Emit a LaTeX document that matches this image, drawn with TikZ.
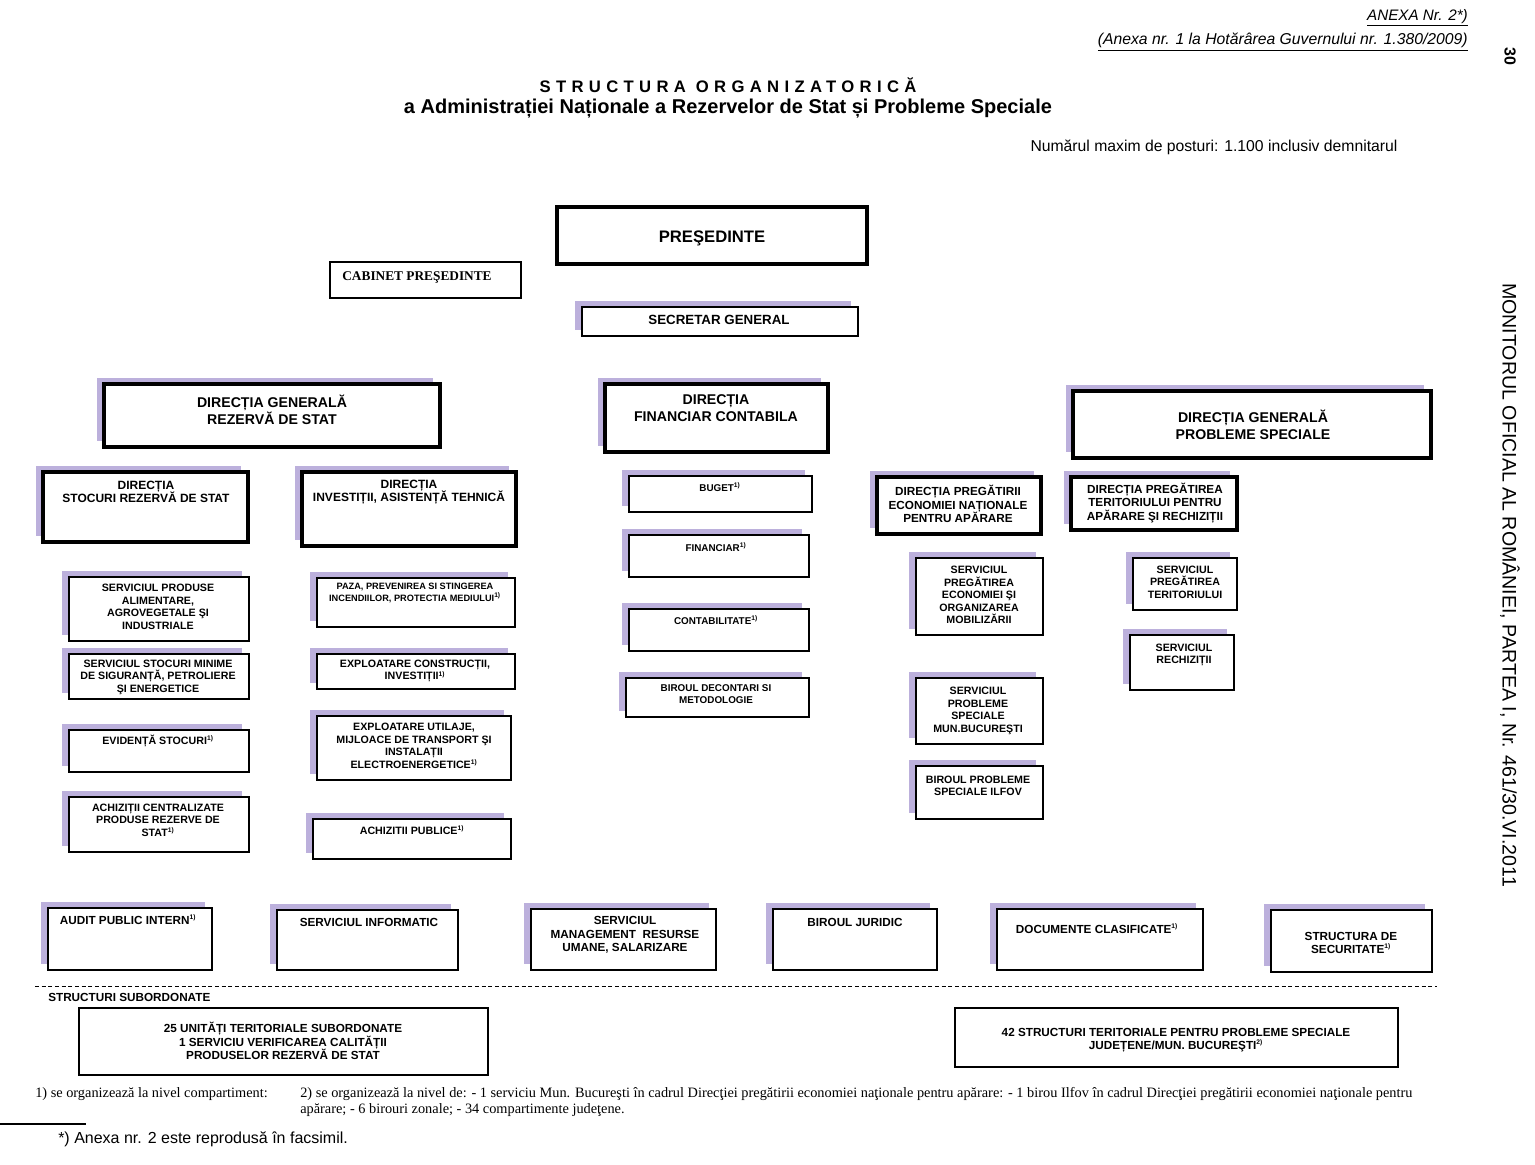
\documentclass[tikz,border=0pt]{standalone}
\usepackage{fontspec}
\setmainfont{Liberation Sans}
\newfontfamily\tms{Liberation Serif}
\definecolor{shd}{RGB}{188,176,220}
\newcommand\shbox[5]{\fill[shd] (#2-7,#3-6) rectangle (#4-7,#5-6); \draw[#1] (#2,#3) rectangle (#4,#5);}
\newcommand\plbox[5]{\draw[#1] (#2,#3) rectangle (#4,#5);}
\newcommand\fn{\textsuperscript{\tiny 1)}}
\begin{document}
\begin{tikzpicture}[x=0.75pt,y=-0.75pt,line join=miter,
  bx/.style={draw=black,line width=1.1pt,fill=white},
  tbx/.style={draw=black,line width=2.3pt,fill=white},
  thin/.style={draw=black,line width=0.8pt,fill=white},
  t/.style={align=center,inner sep=0pt,font=\fontsize{8}{9.4}\selectfont\bfseries},
  ts/.style={align=center,inner sep=0pt,font=\fontsize{7.4}{9}\selectfont\bfseries},
  tm/.style={align=center,inner sep=0pt,font=\fontsize{9}{10.2}\selectfont\bfseries},
  tb/.style={align=center,inner sep=0pt,font=\fontsize{10.6}{12.8}\selectfont\bfseries},
  tp/.style={align=center,inner sep=0pt,font=\fontsize{12.5}{14}\selectfont\bfseries},
  tt/.style={align=center,inner sep=0pt,font=\fontsize{8.8}{10.2}\selectfont\bfseries},
  note/.style={inner sep=0pt,font=\tms\fontsize{10.75}{12}\selectfont,align=left},
]
\useasboundingbox (0,0) rectangle (1535,1164);
\fill[white] (0,0) rectangle (1535,1164);

% header
\node[inner sep=0pt,anchor=east,font=\fontsize{11.4}{13}\selectfont\itshape] (anx) at (1468,18) {\underline{ANEXA Nr. 2*)}};
\node[inner sep=0pt,anchor=east,font=\fontsize{11.8}{13}\selectfont\itshape] (anx2) at (1468,42) {\underline{(Anexa nr. 1 la Hotărârea Guvernului nr. 1.380/2009)}};
\node[inner sep=0pt,rotate=-90,font=\fontsize{12}{14}\selectfont\bfseries] (pg) at (1510,56) {30};
\node[inner sep=0pt,font=\fontsize{12.5}{14}\selectfont\bfseries\addfontfeature{LetterSpace=32}] (tit1) at (728,85) {STRUCTURA ORGANIZATORICĂ};
\node[inner sep=0pt,font=\fontsize{15}{17}\selectfont\bfseries] (tit2) at (728,109) {a Administrației Naționale a Rezervelor de Stat și Probleme Speciale};
\node[inner sep=0pt,font=\fontsize{11.8}{13}\selectfont] (nr) at (1214,147) {Numărul maxim de posturi: 1.100 inclusiv demnitarul};
\node[inner sep=0pt,rotate=-90,font=\fontsize{14.7}{16}\selectfont] (mo) at (1510,585) {MONITORUL OFICIAL AL ROMÂNIEI, PARTEA I, Nr. 461/30.VI.2011};

% top level
\plbox{tbx}{557}{207}{867}{264}
\node[tp] (pres) at (712,238) {PREŞEDINTE};
\plbox{thin}{330}{262}{521}{298}
\node[inner sep=0pt,font=\tms\fontsize{10}{12}\selectfont\bfseries] (cab) at (417,277) {CABINET PREŞEDINTE};
\shbox{bx}{582}{307}{858}{336}
\node[tm,font=\fontsize{10}{12}\selectfont\bfseries] (sec) at (719,320) {SECRETAR GENERAL};

% general directorates
\shbox{tbx}{104}{384}{440}{447}
\node[tb] (dgrs) at (272,410) {DIRECȚIA GENERALĂ\\REZERVĂ DE STAT};
\shbox{tbx}{605}{384}{828}{452}
\node[tb] (dfc) at (716,408) {DIRECȚIA\\FINANCIAR CONTABILA};
\shbox{tbx}{1073}{391}{1431}{458}
\node[tb] (dgps) at (1253,425) {DIRECȚIA GENERALĂ\\PROBLEME SPECIALE};

% directorates
\shbox{tbx}{43}{472}{248}{542}
\node[tm] (dsrs) at (146,492) {DIRECȚIA\\STOCURI REZERVĂ DE STAT};
\shbox{tbx}{302}{472}{516}{546}
\node[tm] (dinv) at (409,492) {DIRECȚIA\\INVESTIȚII, ASISTENȚĂ TEHNICĂ};
\shbox{tbx}{877}{477}{1041}{534}
\node[tt] (dpen) at (958,504) {DIRECȚIA PREGĂTIRII\\ECONOMIEI NAȚIONALE\\PENTRU APĂRARE};
\shbox{tbx}{1071}{477}{1237}{530}
\node[tt] (dpta) at (1155,503) {DIRECȚIA PREGĂTIREA\\TERITORIULUI PENTRU\\APĂRARE ŞI RECHIZIȚII};

% financial column
\shbox{bx}{629}{476}{812}{512}
\node[ts] (bug) at (720,487) {BUGET\fn};
\shbox{bx}{629}{535}{809}{577}
\node[ts] (fin) at (716,547) {FINANCIAR\fn};
\shbox{bx}{629}{609}{809}{651}
\node[ts] (cont) at (716,620) {CONTABILITATE\fn};
\shbox{bx}{626}{678}{809}{717}
\node[ts] (bdm) at (716,694) {BIROUL DECONTARI SI\\METODOLOGIE};

% special problems column
\shbox{bx}{916}{558}{1043}{635}
\node[t] (spe) at (979,595) {SERVICIUL\\PREGĂTIREA\\ECONOMIEI ŞI\\ORGANIZAREA\\MOBILIZĂRII};
\shbox{bx}{1133}{558}{1237}{610}
\node[t] (spt) at (1185,582) {SERVICIUL\\PREGĂTIREA\\TERITORIULUI};
\shbox{bx}{1130}{635}{1234}{690}
\node[t] (sr) at (1184,655) {SERVICIUL\\RECHIZIȚII};
\shbox{bx}{916}{678}{1043}{744}
\node[t] (sps) at (978,711) {SERVICIUL\\PROBLEME\\SPECIALE\\MUN.BUCUREŞTI};
\shbox{bx}{916}{766}{1043}{819}
\node[t] (bpsi) at (978,786) {BIROUL PROBLEME\\SPECIALE ILFOV};

% stocks column
\shbox{bx}{69}{577}{249}{641}
\node[t] (spa) at (158,607) {SERVICIUL PRODUSE\\ALIMENTARE,\\AGROVEGETALE ŞI\\INDUSTRIALE};
\shbox{bx}{69}{654}{249}{699}
\node[t] (ssm) at (158,677) {SERVICIUL STOCURI MINIME\\DE SIGURANȚĂ, PETROLIERE\\ŞI ENERGETICE};
\shbox{bx}{69}{730}{249}{772}
\node[t] (evs) at (158,741) {EVIDENȚĂ STOCURI\fn};
\shbox{bx}{69}{797}{249}{852}
\node[t] (acp) at (158,820) {ACHIZIȚII CENTRALIZATE\\PRODUSE REZERVE DE\\STAT\fn};

% investments column
\shbox{bx}{317}{578}{515}{627}
\node[ts,font=\fontsize{6.9}{8.4}\selectfont\bfseries] (paza) at (415,593) {PAZA, PREVENIREA SI STINGEREA\\INCENDIILOR, PROTECTIA MEDIULUI\fn};
\shbox{bx}{317}{654}{515}{689}
\node[t] (ec) at (415,671) {EXPLOATARE CONSTRUCȚII,\\INVESTIȚII\fn};
\shbox{bx}{317}{716}{511}{780}
\node[t] (eu) at (414,746) {EXPLOATARE UTILAJE,\\MIJLOACE DE TRANSPORT ŞI\\INSTALAȚII\\ELECTROENERGETICE\fn};
\shbox{bx}{313}{819}{511}{859}
\node[t] (ap) at (412,830) {ACHIZITII PUBLICE\fn};

% bottom row
\shbox{bx}{48}{908}{212}{970}
\node[tt] (aud) at (128,920) {AUDIT PUBLIC INTERN\fn};
\shbox{bx}{277}{910}{458}{970}
\node[tt] (si) at (369,922) {SERVICIUL INFORMATIC};
\shbox{bx}{531}{909}{716}{970}
\node[tt] (smru) at (625,935) {SERVICIUL\\MANAGEMENT\ \ RESURSE\\UMANE, SALARIZARE};
\shbox{bx}{773}{909}{937}{970}
\node[tt] (bj) at (855,922) {BIROUL JURIDIC};
\shbox{bx}{997}{909}{1203}{970}
\node[tt] (dc) at (1097,929) {DOCUMENTE CLASIFICATE\fn};
\shbox{bx}{1271}{910}{1432}{972}
\node[tt] (ss) at (1351,943) {STRUCTURA DE\\SECURITATE\fn};

% subordinated
\coordinate (dl) at (35,986);
\coordinate (dr) at (1437,986);
\draw[line width=0.6pt,dash pattern=on 3pt off 2pt] (dl) -- (dr);
\node[tt,anchor=west] (sub) at (48,997) {STRUCTURI SUBORDONATE};
\plbox{bx}{79}{1008}{488}{1075}
\node[tt] (u25) at (283,1041) {25 UNITĂȚI TERITORIALE SUBORDONATE\\1 SERVICIU VERIFICAREA CALITĂȚII\\PRODUSELOR REZERVĂ DE STAT};
\plbox{bx}{955}{1008}{1398}{1067}
\node[tt] (s42) at (1176,1040) {42 STRUCTURI TERITORIALE PENTRU PROBLEME SPECIALE\\JUDEȚENE/MUN. BUCUREŞTI\textsuperscript{\tiny 2)}};

% notes
\node[note,anchor=north west] (n1) at (35,1087) {1) se organizează la nivel compartiment:};
\node[note,anchor=north west] (n2) at (300,1087) {2) se organizează la nivel de: - 1 serviciu Mun. Bucureşti în cadrul Direcţiei pregătirii economiei naţionale pentru apărare: - 1 birou Ilfov în cadrul Direcţiei pregătirii economiei naţionale pentru\\apărare; - 6 birouri zonale; - 34 compartimente judeţene.};
\coordinate (r1) at (0,1124);
\coordinate (r2) at (86,1124);
\draw[line width=0.8pt] (r1) -- (r2);
\node[inner sep=0pt,anchor=west,font=\fontsize{12}{14}\selectfont] (fac) at (58,1139) {*) Anexa nr. 2 este reprodusă în facsimil.};
\end{tikzpicture}
\end{document}
